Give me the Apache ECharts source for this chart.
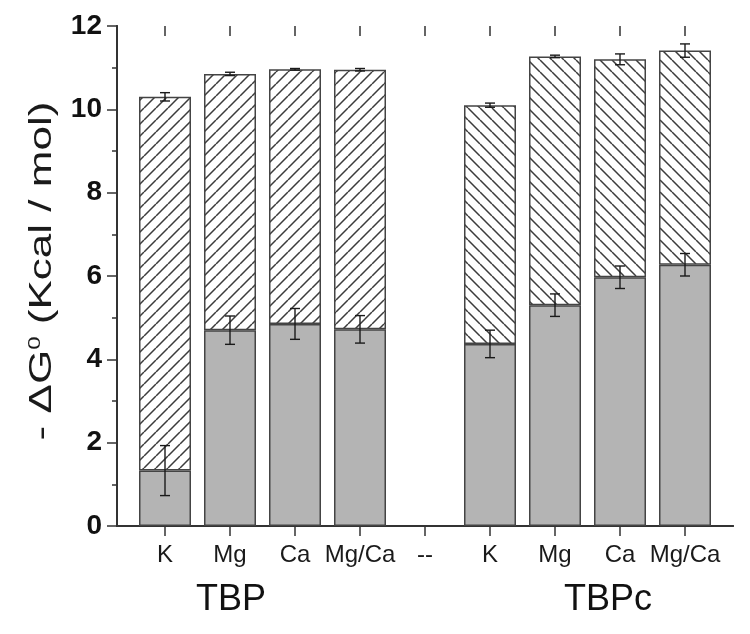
<!DOCTYPE html>
<html>
<head>
<meta charset="utf-8">
<script src="https://cdn.jsdelivr.net/npm/echarts@6/dist/echarts.min.js"></script>
<style>html,body{margin:0;padding:0;background:#fff}#c{width:750px;height:634px}</style>
</head>
<body>
<div id="c"></div>
<script>
// ---- data ----
const categories   = ['K', 'Mg', 'Ca', 'Mg/Ca', '--', 'K', 'Mg', 'Ca', 'Mg/Ca'];
const baseValues   = [1.33, 4.70, 4.85, 4.72, null, 4.37, 5.30, 5.97, 6.27];
const baseErrors   = [0.60, 0.34, 0.37, 0.33, null, 0.33, 0.27, 0.27, 0.27];
const totalValues  = [10.30, 10.85, 10.96, 10.95, null, 10.10, 11.27, 11.20, 11.41];
const totalErrors  = [0.10, 0.04, 0.02, 0.03, null, 0.05, 0.03, 0.13, 0.16];
const hatchDir     = ['/', '/', '/', '/', null, '\\', '\\', '\\', '\\'];
const groupLabels  = ['TBP', 'TBPc'];
const yMin = 0, yMax = 12, yMajor = 2, yMinor = 1;

// ---- hatch patterns ----
function makeHatch(dir) {
  const s = 12;
  const cv = document.createElement('canvas');
  cv.width = s; cv.height = s;
  const ctx = cv.getContext('2d');
  ctx.fillStyle = '#ffffff';
  ctx.fillRect(0, 0, s, s);
  ctx.strokeStyle = '#3c3c3c';
  ctx.lineWidth = 1.5;
  ctx.beginPath();
  for (const o of [-s, 0, s]) {
    if (dir === '/') { ctx.moveTo(o, s); ctx.lineTo(o + s, 0); }
    else { ctx.moveTo(o, 0); ctx.lineTo(o + s, s); }
  }
  ctx.stroke();
  return { image: cv, repeat: 'repeat' };
}
const patterns = { '/': makeHatch('/'), '\\': makeHatch('\\') };

const upperData = totalValues.map((t, i) =>
  (t == null || baseValues[i] == null) ? null : {
    value: +(t - baseValues[i]).toFixed(3),
    itemStyle: { color: patterns[hatchDir[i]] }
  });

const errData = [];
baseValues.forEach((v, i) => { if (v != null) errData.push([i, v, baseErrors[i]]); });
totalValues.forEach((v, i) => { if (v != null) errData.push([i, v, totalErrors[i]]); });

const chart = echarts.init(document.getElementById('c'), null, { renderer: 'canvas' });
const axisCol = '#333333';
const fontFam = '"Liberation Sans", Arial, Helvetica, sans-serif';

chart.setOption({
  animation: false,
  backgroundColor: '#ffffff',
  grid: [
    { left: 132.5, right: 32.5, top: 26, bottom: 108 },   // bars
    { left: 117, right: 17, top: 26, bottom: 108 }        // frame
  ],
  xAxis: [
    { gridIndex: 0, type: 'category', data: categories, position: 'bottom',
      axisLine: { show: false },
      axisTick: { show: true, alignWithLabel: true, inside: false, length: 10,
                  lineStyle: { color: axisCol, width: 1.5 } },
      axisLabel: { show: true, interval: 0, margin: 17, fontSize: 24,
                   color: '#1a1a1a', fontFamily: fontFam },
      splitLine: { show: false } },
    { gridIndex: 0, type: 'category', data: categories, position: 'top',
      axisLine: { show: false },
      axisTick: { show: true, alignWithLabel: true, inside: true, length: 10,
                  lineStyle: { color: axisCol, width: 1.5 } },
      axisLabel: { show: false }, splitLine: { show: false } },
    { gridIndex: 1, type: 'value', min: 0, max: 1, position: 'bottom',
      axisLine: { show: true, lineStyle: { color: axisCol, width: 2 } },
      axisTick: { show: false }, axisLabel: { show: false }, splitLine: { show: false } },
    { gridIndex: 1, type: 'value', min: 0, max: 1, position: 'top',
      axisLine: { show: true, lineStyle: { color: axisCol, width: 2 } },
      axisTick: { show: false }, axisLabel: { show: false }, splitLine: { show: false } }
  ],
  yAxis: [
    { gridIndex: 0, type: 'value', min: yMin, max: yMax, show: false },
    { gridIndex: 1, type: 'value', min: yMin, max: yMax, interval: yMajor, position: 'left',
      axisLine: { show: true, lineStyle: { color: axisCol, width: 2 } },
      axisTick: { show: true, inside: false, length: 10, lineStyle: { color: axisCol, width: 1.5 } },
      minorTick: { show: true, splitNumber: yMajor / yMinor, length: 5, lineStyle: { color: axisCol, width: 1.5 } },
      axisLabel: { show: true, margin: 15, fontSize: 28, fontWeight: 'bold',
                   color: '#111', fontFamily: fontFam },
      splitLine: { show: false } },
    { gridIndex: 1, type: 'value', min: yMin, max: yMax, interval: yMinor, position: 'right',
      axisLine: { show: true, lineStyle: { color: axisCol, width: 2 } },
      axisTick: { show: true, inside: true, length: 5, lineStyle: { color: axisCol, width: 1.5 } },
      axisLabel: { show: false }, splitLine: { show: false } }
  ],
  series: [
    { type: 'bar', name: 'base', xAxisIndex: 0, yAxisIndex: 0, stack: 's',
      barWidth: 52, data: baseValues,
      itemStyle: { color: '#b4b4b4', borderColor: '#444444', borderWidth: 1.5 } },
    { type: 'bar', name: 'upper', xAxisIndex: 0, yAxisIndex: 0, stack: 's',
      barWidth: 52, data: upperData,
      itemStyle: { borderColor: '#444444', borderWidth: 1.5 } },
    { type: 'custom', name: 'err', xAxisIndex: 0, yAxisIndex: 0, z: 5,
      data: errData,
      renderItem: function (params, api) {
        const x = api.value(0), v = api.value(1), e = api.value(2);
        const t = api.coord([x, v + e]);
        const b = api.coord([x, v - e]);
        const hw = 5;
        const st = { stroke: '#1a1a1a', lineWidth: 1.4 };
        return { type: 'group', children: [
          { type: 'line', shape: { x1: t[0], y1: t[1], x2: b[0], y2: b[1] }, style: st },
          { type: 'line', shape: { x1: t[0] - hw, y1: t[1], x2: t[0] + hw, y2: t[1] }, style: st },
          { type: 'line', shape: { x1: b[0] - hw, y1: b[1], x2: b[0] + hw, y2: b[1] }, style: st }
        ]};
      } }
  ],
  graphic: [
    { type: 'text', x: 42, y: 271, rotation: Math.PI / 2, scaleX: 1.42, z: 10,
      style: { text: '- ΔG{s|0} (Kcal / mol)', fill: '#1a1a1a', fontSize: 31, fontFamily: fontFam,
               align: 'center', verticalAlign: 'middle',
               rich: { s: { fontSize: 17, verticalAlign: 'top', padding: [0, 0, 14, 0], fontFamily: fontFam, fill: '#1a1a1a' } } } },
    { type: 'text', x: 231, y: 600, z: 10,
      style: { text: groupLabels[0], fill: '#111', fontSize: 36, fontFamily: fontFam, align: 'center', verticalAlign: 'middle' } },
    { type: 'text', x: 608, y: 600, z: 10,
      style: { text: groupLabels[1], fill: '#111', fontSize: 36, fontFamily: fontFam, align: 'center', verticalAlign: 'middle' } }
  ]
});
</script>
</body>
</html>
